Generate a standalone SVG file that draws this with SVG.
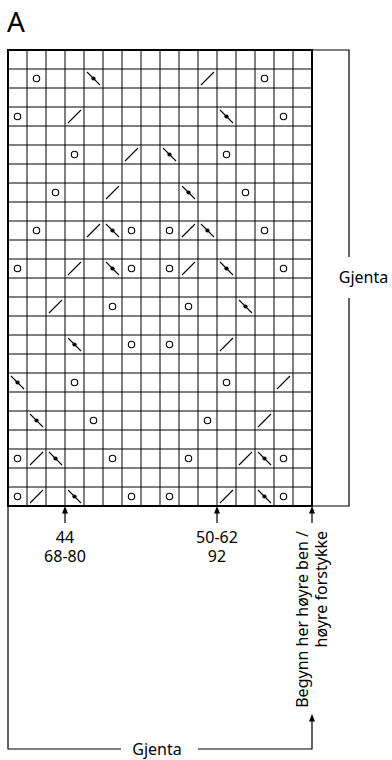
<svg xmlns="http://www.w3.org/2000/svg" xmlns:xlink="http://www.w3.org/1999/xlink" width="392" height="760" viewBox="0 0 392 760">
<style>
text{font-family:"Noto Sans","Open Sans","Liberation Sans",sans-serif;fill:#000}
.t{font-size:16px}
.grid{fill:none;stroke:#000;stroke-width:1}
.border{fill:none;stroke:#000;stroke-width:2}
.ln{fill:none;stroke:#000;stroke-width:1.2}
.ah{fill:#000;stroke:none}
.sym{fill:none;stroke:#000;stroke-width:1.1}
</style>
<defs>
<g id="yo"><circle class="sym" cx="9.5" cy="9.5" r="3.2"/></g>
<g id="k2"><line class="sym" x1="3" y1="16" x2="16" y2="3"/></g>
<g id="sk"><line class="sym" x1="3" y1="3" x2="16" y2="16" stroke-width="1.2"/><circle cx="9.5" cy="9.5" r="2.1" fill="#000"/></g>
</defs>
<rect width="392" height="760" fill="#fff"/>
<text x="7" y="32" style="font-size:28px">A</text>
<g id="chart">
<path class="grid" d="M27,50V506M46,50V506M65,50V506M84,50V506M103,50V506M122,50V506M141,50V506M160,50V506M179,50V506M198,50V506M217,50V506M236,50V506M255,50V506M274,50V506M293,50V506
M8,69H312M8,88H312M8,107H312M8,126H312M8,145H312M8,164H312M8,183H312M8,202H312M8,221H312M8,240H312M8,259H312M8,278H312M8,297H312M8,316H312M8,335H312M8,354H312M8,373H312M8,392H312M8,411H312M8,430H312M8,449H312M8,468H312M8,487H312"/>
<rect class="border" x="8" y="50" width="304" height="456"/>
<g id="symbols">
<use href="#yo" x="27" y="69"/><use href="#sk" x="84" y="69"/><use href="#k2" x="198" y="69"/><use href="#yo" x="255" y="69"/>
<use href="#yo" x="8" y="107"/><use href="#k2" x="65" y="107"/><use href="#sk" x="217" y="107"/><use href="#yo" x="274" y="107"/>
<use href="#yo" x="65" y="145"/><use href="#k2" x="122" y="145"/><use href="#sk" x="160" y="145"/><use href="#yo" x="217" y="145"/>
<use href="#yo" x="46" y="183"/><use href="#k2" x="103" y="183"/><use href="#sk" x="179" y="183"/><use href="#yo" x="236" y="183"/>
<use href="#yo" x="27" y="221"/><use href="#k2" x="84" y="221"/><use href="#sk" x="103" y="221"/><use href="#yo" x="122" y="221"/><use href="#yo" x="160" y="221"/><use href="#k2" x="179" y="221"/><use href="#sk" x="198" y="221"/><use href="#yo" x="255" y="221"/>
<use href="#yo" x="8" y="259"/><use href="#k2" x="65" y="259"/><use href="#sk" x="103" y="259"/><use href="#yo" x="122" y="259"/><use href="#yo" x="160" y="259"/><use href="#k2" x="179" y="259"/><use href="#sk" x="217" y="259"/><use href="#yo" x="274" y="259"/>
<use href="#k2" x="46" y="297"/><use href="#yo" x="103" y="297"/><use href="#yo" x="179" y="297"/><use href="#sk" x="236" y="297"/>
<use href="#sk" x="65" y="335"/><use href="#yo" x="122" y="335"/><use href="#yo" x="160" y="335"/><use href="#k2" x="217" y="335"/>
<use href="#sk" x="8" y="373"/><use href="#yo" x="65" y="373"/><use href="#yo" x="217" y="373"/><use href="#k2" x="274" y="373"/>
<use href="#sk" x="27" y="411"/><use href="#yo" x="84" y="411"/><use href="#yo" x="198" y="411"/><use href="#k2" x="255" y="411"/>
<use href="#yo" x="8" y="449"/><use href="#k2" x="27" y="449"/><use href="#sk" x="46" y="449"/><use href="#yo" x="103" y="449"/><use href="#yo" x="179" y="449"/><use href="#k2" x="236" y="449"/><use href="#sk" x="255" y="449"/><use href="#yo" x="274" y="449"/>
<use href="#yo" x="8" y="487"/><use href="#k2" x="27" y="487"/><use href="#sk" x="65" y="487"/><use href="#yo" x="122" y="487"/><use href="#yo" x="160" y="487"/><use href="#k2" x="217" y="487"/><use href="#sk" x="255" y="487"/><use href="#yo" x="274" y="487"/>
</g>
</g>
<g id="connectors">
<path class="ln" d="M312,50H349V257M349,298V506H312"/>
<path class="ln" d="M65,523V511M217,523V511M312,523V511"/>
<polygon class="ah" points="65,506 62,513.5 68,513.5"/>
<polygon class="ah" points="217,506 214,513.5 220,513.5"/>
<polygon class="ah" points="312,506 309,513.5 315,513.5"/>
<path class="ln" d="M8,506V749H121M198,749H312V720"/>
<polygon class="ah" points="312,714 309,721.5 315,721.5"/>
</g>
<g id="label-gjenta-right"><text class="t" x="363.5" y="283" text-anchor="middle">Gjenta</text></g>
<g id="label-44"><text class="t" x="65" y="542.5" text-anchor="middle">44<tspan x="65" dy="19">68-80</tspan></text></g>
<g id="label-50"><text class="t" x="217" y="542.5" text-anchor="middle">50-62<tspan x="217" dy="19">92</tspan></text></g>
<g id="label-begynn"><text class="t" transform="translate(308,531) rotate(-90)" text-anchor="end">Begynn her høyre ben /<tspan x="0" dy="19">høyre forstykke</tspan></text></g>
<g id="label-gjenta-bottom"><text class="t" x="157" y="755" text-anchor="middle">Gjenta</text></g>
</svg>
